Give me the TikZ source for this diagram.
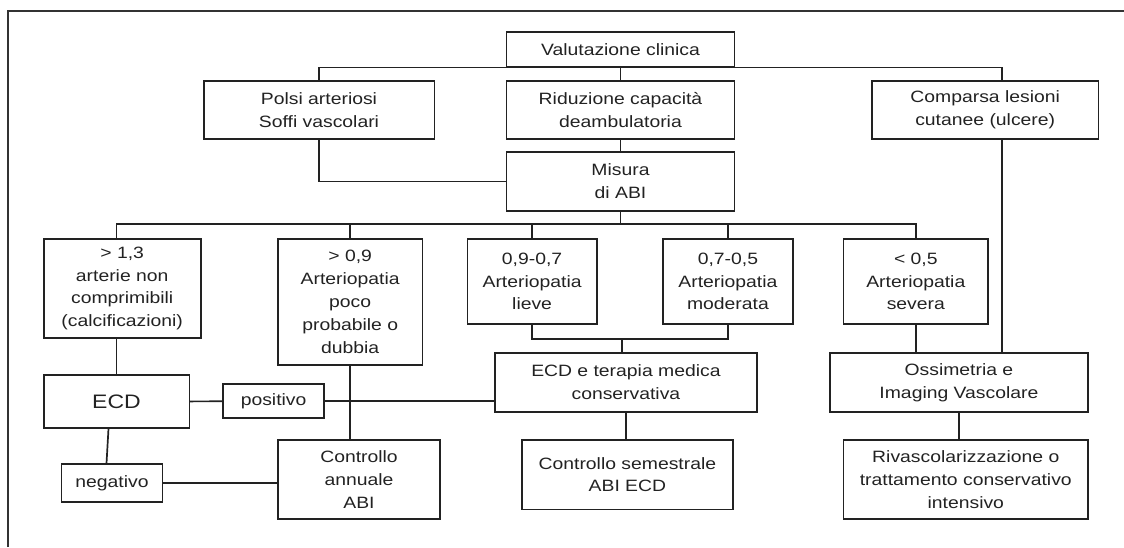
\documentclass[tikz,border=0pt]{standalone}
\usepackage{fontspec}
\setmainfont{Liberation Sans}[FakeStretch=1.18]
\usetikzlibrary{calc}
\definecolor{ink}{HTML}{222222}
\definecolor{framecol}{HTML}{333333}
\begin{document}
\begin{tikzpicture}[x=1pt,y=-1pt,
  box/.style={draw=ink,line width=1.7pt,inner sep=0pt,align=center,
    font=\fontsize{16.4}{22.8}\selectfont,text=ink},
  link/.style={draw=ink,line width=1.7pt},
  bx/.style n args={2}{minimum width=#1,minimum height=#2}]
\useasboundingbox (0,0) rectangle (1124,547);
\draw[framecol,line width=1.5pt] (7.9,547) -- (7.9,11) -- (1124,11);

\node[box,bx={228}{35}] (val) at (620.5,49.2) {Valutazione clinica};
\node[box,bx={230.7}{58}] (pol) at (319,110) {Polsi arteriosi\\Soffi vascolari};
\node[box,bx={228}{58}] (rid) at (620.5,110) {Riduzione capacità\\deambulatoria};
\node[box,bx={226.6}{58}] (com) at (985.2,110) {Comparsa lesioni\\cutanee (ulcere)};
\node[box,bx={228}{58.4}] (mis) at (620.5,181.5) {Misura\\di ABI};

\node[box,bx={157}{99.6}] (b1) at (122.2,288.5) {> 1,3\\arterie non\\comprimibili\\(calcificazioni)};
\node[box,bx={144.6}{126.3}] (b2) at (350.2,301.9) {> 0,9\\Arteriopatia\\poco\\probabile o\\dubbia};
\node[box,bx={129.2}{85.3}] (b3) at (532.1,281.4) {0,9-0,7\\Arteriopatia\\lieve};
\node[box,bx={129.7}{85.3}] (b4) at (727.9,281.4) {0,7-0,5\\Arteriopatia\\moderata};
\node[box,bx={144.5}{85.3}] (b5) at (915.8,281.4) {< 0,5\\Arteriopatia\\severa};

\node[box,bx={145.7}{52.7},font=\fontsize{19.5}{24}\selectfont] (ecd) at (116.5,401.4) {ECD};
\node[box,bx={100.7}{34}] (pos) at (273.6,401.3) {positivo};
\node[box,bx={101}{37.4}] (neg) at (112,483) {negativo};
\node[box,bx={262.5}{58.4}] (ecdt) at (625.9,382.5) {ECD e terapia medica\\conservativa};
\node[box,bx={162}{79}] (ann) at (359,479.5) {Controllo\\annuale\\ABI};
\node[box,bx={210.6}{69.3}] (sem) at (627.4,474.7) {Controllo semestrale\\ABI ECD};
\node[box,bx={258.2}{58.4}] (oss) at (958.9,382.5) {Ossimetria e\\Imaging Vascolare};
\node[box,bx={244.5}{79}] (riv) at (965.8,479.5) {Rivascolarizzazione o\\trattamento conservativo\\intensivo};

\coordinate (xc) at (1001.7,0);
\coordinate (bus) at (620.5,224);
\coordinate (j) at (622,339.3);

\draw[link] (pol.north) |- (val.south) -| (xc |- com.north);
\draw[link] (val.south) -- (rid.north);
\draw[link] (xc |- com.south) -- (xc |- oss.north);
\draw[link] (rid.south) -- (mis.north);
\draw[link] (pol.south) |- (mis.west);
\draw[link] (mis.south) -- (bus);
\draw[link] (ecd.north |- b1.north) |- (bus) -| (b5.north);
\draw[link] (b2.north) -- (b2.north |- bus);
\draw[link] (b3.north) -- (b3.north |- bus);
\draw[link] (b4.north) -- (b4.north |- bus);
\draw[link] (ecd.north |- b1.south) -- (ecd.north);
\draw[link] (b3.south) |- (j) -| (b4.south);
\draw[link] (j) -- (j |- ecdt.north);
\draw[link] (b5.south) -- (b5.south |- oss.north);
\draw[link] (oss.south) -- (oss.south |- riv.north);
\draw[link] (ecdt.south) -- (ecdt.south |- sem.north);
\draw[link] (ecd.east) -- (pos.west);
\draw[link] (pos.east) -- (pos.east -| ecdt.west);
\draw[link] (b2.south) -- (b2.south |- ann.north);
\draw[link] ([xshift=-8pt]ecd.south) -- ([xshift=-5.5pt]neg.north);
\draw[link] (neg.east) -- (neg.east -| ann.west);
\end{tikzpicture}
\end{document}
